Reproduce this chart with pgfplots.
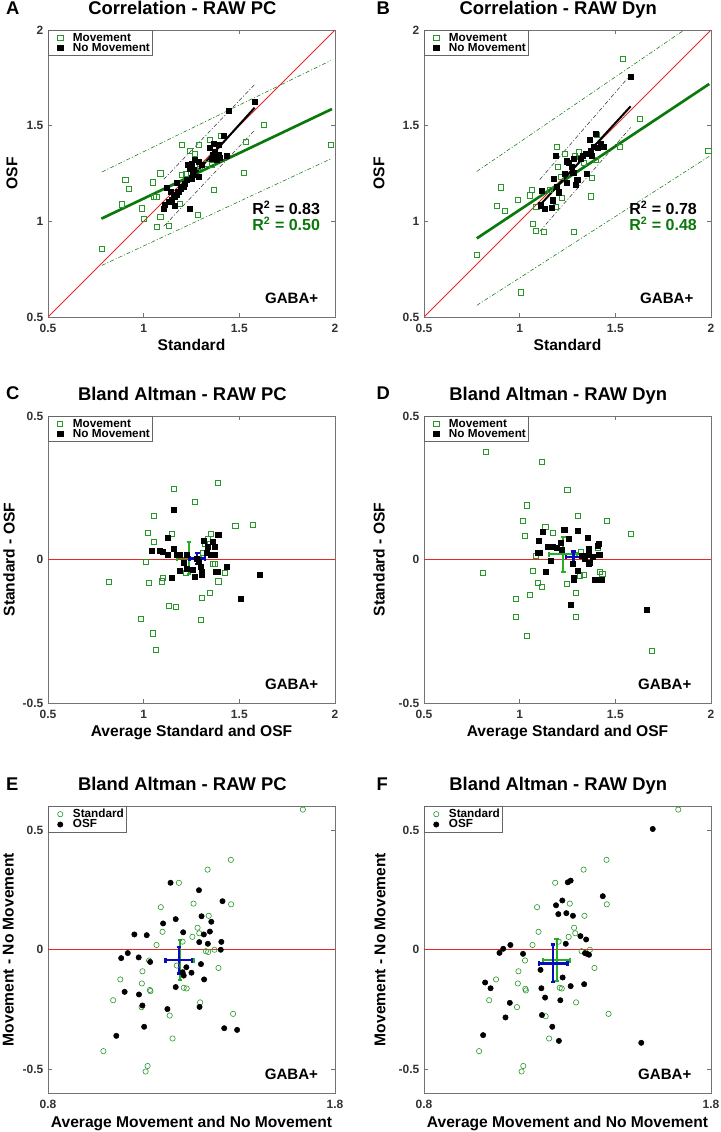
\documentclass[border=0pt]{standalone}
\usepackage{fontspec}
\setmainfont{Liberation Sans}
\usepackage{pgfplots}
\pgfplotsset{compat=1.18}
\definecolor{mgreen}{RGB}{40,150,40}
\definecolor{lgreen}{RGB}{10,120,10}
\definecolor{ebgreen}{RGB}{40,175,40}
\definecolor{ebblue}{RGB}{10,10,190}
\definecolor{mred}{RGB}{230,40,40}
\tikzset{
  gaba/.style={font=\fontsize{11.3}{12}\selectfont\bfseries, anchor=base east},
  rsq/.style={font=\fontsize{12}{13}\selectfont\bfseries, anchor=base east},
  plab/.style={font=\fontsize{13.8}{15}\selectfont\bfseries, anchor=base west},
}
\pgfplotsset{
  panel/.style={
    scale only axis, width=215.25pt, height=215.25pt, anchor=north west,
    axis line style={black!55}, every tick/.style={black!55, thin},
    tick align=inside, major tick length=3pt, scaled ticks=false,
    tick label style={font=\fontsize{9}{10}\selectfont\bfseries, text=black!80},
    /pgf/number format/assume math mode=true,
    label style={font=\fontsize{11.7}{13}\selectfont\bfseries},
    title style={font=\fontsize{13.8}{15}\selectfont\bfseries, at={(axis description cs:0.468,1)}, anchor=base, yshift=6pt},
    xticklabel style={anchor=base, yshift=-11.7pt},
    ylabel style={anchor=center},
    legend cell align=left,
    legend style={at={(0,1)}, anchor=north west, draw=black!60, fill=white,
      font=\fontsize{8.8}{9}\selectfont\bfseries, inner xsep=0pt, inner ysep=0.5pt,
      row sep=-3pt, nodes={inner sep=1.5pt}},
  },
  limg/.style={legend image code/.code={\path[draw=none,fill=none] (0pt,0pt) -- (17pt,0pt); \draw[##1, only marks] plot coordinates {(9pt,0pt)};}},
  grn/.style={only marks, mark=square, mark size=1.9pt, color=mgreen, mark options={line width=0.45pt}, limg},
  blk/.style={only marks, mark=square*, mark size=1.9pt, color=black, limg},
  grnc/.style={only marks, mark=o, mark size=2pt, color=mgreen, mark options={line width=0.45pt}, limg},
  blkc/.style={only marks, mark=*, mark size=2pt, color=black, limg},
  dd/.style={forget plot, mark=none, thin, dash pattern=on 3pt off 1.5pt on 0.8pt off 1.5pt},
  zl/.style={forget plot, mark=none, draw=mred, line width=0.6pt},
  zh/.style={forget plot, mark=none, draw=mred, line width=0.9pt},
  ebg/.style={forget plot, mark=none, color=ebgreen, error bars/.cd, x dir=both, x explicit, y dir=both, y explicit,
    error bar style={line width=1.5pt, color=ebgreen}, error mark options={rotate=90, line width=1.5pt, mark size=1.7pt, color=ebgreen}},
  ebb/.style={forget plot, mark=none, color=ebblue, error bars/.cd, x dir=both, x explicit, y dir=both, y explicit,
    error bar style={line width=1.8pt, color=ebblue}, error mark options={rotate=90, line width=1.8pt, mark size=1.7pt, color=ebblue}},
}
\begin{document}
\begin{tikzpicture}
\useasboundingbox (0,0) rectangle (540.75pt,-849pt);
\node[plab] at (1pt,-10.5pt) {A};
\node[plab] at (279pt,-10.5pt) {B};
\node[plab] at (1pt,-299.5pt) {C};
\node[plab] at (279pt,-299.5pt) {D};
\node[plab] at (1pt,-592.5pt) {E};
\node[plab] at (279pt,-592.5pt) {F};

% ---------------- A
\begin{axis}[panel, at={(36pt,-22.5pt)},
  xmin=0.5,xmax=2,ymin=0.5,ymax=2, xtick={0.5,1,1.5,2}, ytick={0.5,1,1.5,2},
  title={Correlation - RAW PC}, xlabel={Standard}, ylabel={OSF},
  xlabel style={at={(axis description cs:0.5,0)}, anchor=base, yshift=-24.75pt},
  ylabel style={at={(axis description cs:-0.1254,0.5)}}]
\addplot[zl] coordinates {(0.5,0.5) (2,2)};
\addplot[grn] coordinates {(0.782,0.857) (0.885,1.089) (0.904,1.216) (0.920,1.172) (0.991,1.068) (1.002,1.012)
 (1.049,1.204) (1.052,1.127) (1.066,1.129) (1.070,0.972) (1.087,1.023) (1.087,1.251) (1.129,0.977) (1.190,1.094)
 (1.197,1.401) (1.200,1.244) (1.218,1.249) (1.239,1.368) (1.265,1.352) (1.284,1.033) (1.287,1.402) (1.295,1.286)
 (1.329,1.300) (1.348,1.427) (1.356,1.295) (1.368,1.167) (1.401,1.448) (1.524,1.254) (1.535,1.418) (1.629,1.505) (1.977,1.401)};
\addlegendentry{Movement}
\addplot[blk] coordinates {(1.582,1.625) (1.443,1.577) (1.420,1.448) (1.434,1.342) (1.394,1.399) (1.364,1.403)
 (1.347,1.385) (1.373,1.364) (1.390,1.347) (1.361,1.350) (1.356,1.326) (1.382,1.321) (1.399,1.330) (1.268,1.321)
 (1.286,1.312) (1.303,1.295) (1.251,1.303) (1.233,1.295) (1.242,1.274) (1.260,1.268) (1.256,1.246) (1.286,1.233)
 (1.251,1.225) (1.225,1.216) (1.216,1.194) (1.207,1.181) (1.194,1.173) (1.181,1.155) (1.173,1.141) (1.164,1.129)
 (1.173,1.204) (1.120,1.176) (1.141,1.155) (1.155,1.138) (1.146,1.112) (1.129,1.103) (1.112,1.085) (1.164,1.082)
 (1.103,1.068) (1.242,1.065)};
\addlegendentry{No Movement}
\addplot[dd, lgreen] coordinates {(0.782,1.258) (1.977,1.840)};
\addplot[dd, lgreen] coordinates {(0.782,0.770) (1.977,1.326)};
\addplot[forget plot, mark=none, lgreen, line width=2pt] coordinates {(0.779,1.014) (1.984,1.587)};
\addplot[dd, black!80] coordinates {(1.105,1.220) (1.578,1.713)};
\addplot[dd, black!80] coordinates {(1.105,0.974) (1.578,1.474)};
\addplot[forget plot, mark=none, black, line width=1.5pt] coordinates {(1.103,1.066) (1.580,1.594)};
\node[rsq] at (axis description cs:0.964,0.357) {R\textsuperscript{2} = 0.83};
\node[rsq, text=lgreen] at (axis description cs:0.964,0.301) {R\textsuperscript{2} = 0.50};
\node[gaba] at (axis description cs:0.958,0.048) {GABA+};
\end{axis}

% ---------------- B
\begin{axis}[panel, at={(318pt,-22.5pt)},
  xmin=0.5,xmax=2,ymin=0.5,ymax=2, xtick={0.5,1,1.5,2}, ytick={0.5,1,1.5,2},
  title={Correlation - RAW Dyn}, xlabel={Standard}, ylabel={OSF},
  xlabel style={at={(axis description cs:0.5,0)}, anchor=base, yshift=-24.75pt},
  ylabel style={at={(axis description cs:-0.157,0.5)}}]
\addplot[zl] coordinates {(0.5,0.5) (2,2)};
\addplot[grn] coordinates {(0.778,0.826) (0.881,1.080) (0.902,1.178) (0.920,1.054) (0.990,1.111) (1.005,0.629)
 (1.052,1.136) (1.063,1.164) (1.070,0.988) (1.086,0.949) (1.087,1.075) (1.128,0.944) (1.159,1.164) (1.191,1.077)
 (1.194,1.392) (1.199,1.287) (1.213,1.235) (1.219,1.124) (1.234,1.354) (1.283,0.944) (1.288,1.340) (1.311,1.361)
 (1.336,1.305) (1.371,1.131) (1.376,1.226) (1.399,1.322) (1.402,1.453) (1.524,1.390) (1.537,1.850) (1.629,1.535) (1.986,1.371)};
\addlegendentry{Movement}
\addplot[blk] coordinates {(1.117,1.160) (1.108,1.084) (1.131,1.064) (1.166,1.070) (1.171,1.110) (1.178,1.223)
 (1.189,1.345) (1.196,1.183) (1.203,1.152) (1.236,1.249) (1.245,1.204) (1.248,1.314) (1.259,1.308) (1.271,1.287)
 (1.280,1.253) (1.283,1.326) (1.292,1.192) (1.301,1.218) (1.318,1.326) (1.332,1.343) (1.346,1.353) (1.353,1.249)
 (1.364,1.427) (1.371,1.371) (1.379,1.343) (1.388,1.392) (1.399,1.458) (1.409,1.383) (1.423,1.406) (1.441,1.392) (1.580,1.754)};
\addlegendentry{No Movement}
\addplot[dd, lgreen] coordinates {(0.776,1.261) (1.860,2.0)};
\addplot[dd, lgreen] coordinates {(0.776,0.561) (1.991,1.340)};
\addplot[forget plot, mark=none, lgreen, line width=2pt] coordinates {(0.776,0.911) (1.991,1.718)};
\addplot[dd, black!80] coordinates {(1.105,1.218) (1.580,1.766)};
\addplot[dd, black!80] coordinates {(1.105,0.948) (1.580,1.490)};
\addplot[forget plot, mark=none, black, line width=1.5pt] coordinates {(1.100,1.078) (1.580,1.601)};
\node[rsq] at (axis description cs:0.967,0.357) {R\textsuperscript{2} = 0.78};
\node[rsq, text=lgreen] at (axis description cs:0.967,0.301) {R\textsuperscript{2} = 0.48};
\node[gaba] at (axis description cs:0.955,0.048) {GABA+};
\end{axis}

% ---------------- C
\begin{axis}[panel, at={(36pt,-312pt)},
  xmin=0.5,xmax=2,ymin=-0.5,ymax=0.5, xtick={0.5,1,1.5,2}, ytick={-0.5,0,0.5},
  title={Bland Altman - RAW PC}, xlabel={Average Standard and OSF}, ylabel={Standard - OSF},
  xlabel style={at={(axis description cs:0.5,0)}, anchor=base, yshift=-25.3pt},
  ylabel style={at={(axis description cs:-0.136,0.5)}}]
\addplot[grn] coordinates {(0.819,-0.079) (0.985,-0.205) (1.009,-0.009) (1.022,0.094) (1.029,-0.081) (1.049,-0.257)
 (1.055,0.153) (1.055,0.063) (1.063,-0.314) (1.095,-0.076) (1.102,-0.063) (1.130,-0.161) (1.145,0.089) (1.159,0.248)
 (1.170,-0.165) (1.220,-0.045) (1.269,0.201) (1.299,-0.210) (1.302,-0.133) (1.311,0.023) (1.320,0.055) (1.334,0.073)
 (1.346,-0.117) (1.353,0.088) (1.363,-0.015) (1.372,-0.015) (1.388,0.266) (1.390,-0.076) (1.426,-0.045) (1.479,0.116) (1.571,0.120)};
\addlegendentry{Movement}
\addplot[blk] coordinates {(1.044,0.032) (1.084,0.030) (1.102,0.026) (1.124,0.075) (1.124,0.017) (1.149,-0.063)
 (1.156,0.174) (1.159,0.036) (1.173,0.018) (1.189,0.015) (1.191,-0.038) (1.212,-0.012) (1.224,0.015) (1.227,-0.032)
 (1.255,-0.036) (1.267,-0.061) (1.276,0.003) (1.290,-0.009) (1.299,-0.024) (1.302,-0.044) (1.302,-0.052) (1.315,0.065)
 (1.329,0.023) (1.337,0.044) (1.351,0.015) (1.363,0.061) (1.370,0.044) (1.372,0.015) (1.376,-0.044) (1.390,0.087)
 (1.386,-0.044) (1.435,-0.026) (1.506,-0.137) (1.606,-0.052)};
\addlegendentry{No Movement}
\addplot[zh] coordinates {(0.5,0) (2,0)};
\addplot[ebg] coordinates {(1.237,0.004) +- (0.064,0.056)};
\addplot[ebb] coordinates {(1.280,0.003) +- (0.041,0.019)};
\node[gaba] at (axis description cs:0.958,0.048) {GABA+};
\end{axis}

% ---------------- D
\begin{axis}[panel, at={(318pt,-312pt)},
  xmin=0.5,xmax=2,ymin=-0.5,ymax=0.5, xtick={0.5,1,1.5,2}, ytick={-0.5,0,0.5},
  title={Bland Altman - RAW Dyn}, xlabel={Average Standard and OSF}, ylabel={Standard - OSF},
  xlabel style={at={(axis description cs:0.5,0)}, anchor=base, yshift=-25.3pt},
  ylabel style={at={(axis description cs:-0.157,0.5)}}]
\addplot[grn] coordinates {(0.806,-0.047) (0.822,0.375) (0.981,-0.137) (0.981,-0.199) (1.018,0.136) (1.028,0.081)
 (1.039,0.189) (1.039,-0.267) (1.053,-0.122) (1.067,-0.040) (1.084,0.012) (1.096,-0.081) (1.114,0.339) (1.117,-0.094)
 (1.134,0.113) (1.171,0.094) (1.244,-0.084) (1.249,0.242) (1.291,-0.199) (1.294,-0.117) (1.303,0.152) (1.313,-0.055)
 (1.319,0.026) (1.333,-0.052) (1.406,0.041) (1.418,-0.044) (1.432,-0.050) (1.456,0.136) (1.579,0.091) (1.692,-0.317)};
\addlegendentry{Movement}
\addplot[blk] coordinates {(1.100,0.065) (1.096,0.023) (1.105,0.023) (1.119,0.096) (1.136,-0.044) (1.148,0.046)
 (1.162,-0.005) (1.174,0.044) (1.192,0.041) (1.214,0.058) (1.221,0.034) (1.233,0.104) (1.256,0.072) (1.265,-0.159)
 (1.279,-0.015) (1.281,-0.070) (1.284,-0.063) (1.303,0.101) (1.303,-0.040) (1.327,0.012) (1.340,0.003) (1.354,0.076)
 (1.359,0.036) (1.359,0.015) (1.366,-0.012) (1.362,-0.015) (1.383,0.011) (1.395,-0.069) (1.409,0.049) (1.414,0.054)
 (1.416,0.015) (1.430,-0.069) (1.666,-0.176)};
\addlegendentry{No Movement}
\addplot[zh] coordinates {(0.5,0) (2,0)};
\addplot[ebg] coordinates {(1.228,0.018) +- (0.073,0.062)};
\addplot[ebb] coordinates {(1.282,0.008) +- (0.041,0.020)};
\node[gaba] at (axis description cs:0.948,0.048) {GABA+};
\end{axis}

% ---------------- E
\begin{axis}[panel, at={(36pt,-604.5pt)},
  xmin=0.8,xmax=1.8,ymin=-0.6,ymax=0.6, xtick={0.8,1.8}, ytick={-0.5,0,0.5},
  title={Bland Altman - RAW PC}, xlabel={Average Movement and No Movement}, ylabel={Movement - No Movement},
  xlabel style={at={(axis description cs:0.5,0)}, anchor=base, yshift=-26pt},
  ylabel style={at={(axis description cs:-0.138,0.5)}}]
\addplot[grnc] coordinates {(0.993,-0.425) (1.027,-0.212) (1.052,-0.125) (1.126,-0.241) (1.127,-0.142) (1.129,-0.091)
 (1.140,-0.510) (1.147,-0.487) (1.152,-0.046) (1.155,-0.169) (1.157,-0.174) (1.178,0.019) (1.193,0.177) (1.199,0.074)
 (1.224,-0.276) (1.234,-0.372) (1.249,-0.067) (1.256,0.279) (1.269,0.033) (1.273,-0.160) (1.283,-0.163) (1.303,0.053)
 (1.307,0.192) (1.321,0.091) (1.327,0.068) (1.330,-0.221) (1.350,-0.007) (1.356,0.334) (1.358,-0.010) (1.360,0.141)
 (1.380,-0.001) (1.394,-0.077) (1.437,0.375) (1.438,0.189) (1.445,-0.269) (1.688,0.585)};
\addlegendentry{Standard}
\addplot[blkc] coordinates {(1.038,-0.361) (1.055,-0.036) (1.067,-0.177) (1.078,-0.015) (1.101,0.063) (1.116,-0.033)
 (1.117,-0.188) (1.129,-0.234) (1.135,-0.323) (1.144,0.060) (1.156,-0.052) (1.201,0.109) (1.216,-0.249) (1.227,0.279)
 (1.245,0.127) (1.245,-0.157) (1.269,-0.095) (1.271,0.072) (1.273,-0.109) (1.282,-0.074) (1.300,-0.097) (1.326,0.248)
 (1.327,0.031) (1.328,-0.240) (1.333,-0.061) (1.335,0.139) (1.343,0.063) (1.344,-0.125) (1.357,0.024) (1.364,0.075)
 (1.369,0.116) (1.404,0.032) (1.402,-0.001) (1.408,0.202) (1.414,-0.329) (1.459,-0.336)};
\addlegendentry{OSF}
\addplot[zh] coordinates {(0.8,0) (1.8,0)};
\addplot[ebg] coordinates {(1.260,-0.045) +- (0.048,0.083)};
\addplot[ebb] coordinates {(1.256,-0.045) +- (0.046,0.055)};
\node[gaba] at (axis description cs:0.957,0.048) {GABA+};
\end{axis}

% ---------------- F
\begin{axis}[panel, at={(318pt,-604.5pt)},
  xmin=0.8,xmax=1.8,ymin=-0.6,ymax=0.6, xtick={0.8,1.8}, ytick={-0.5,0,0.5},
  title={Bland Altman - RAW Dyn}, xlabel={Average Movement and No Movement}, ylabel={Movement - No Movement},
  xlabel style={at={(axis description cs:0.5,0)}, anchor=base, yshift=-26pt},
  ylabel style={at={(axis description cs:-0.153,0.5)}}]
\addplot[grnc] coordinates {(0.992,-0.425) (1.027,-0.212) (1.051,-0.125) (1.124,-0.241) (1.127,-0.142) (1.129,-0.091)
 (1.140,-0.510) (1.146,-0.487) (1.152,-0.046) (1.153,-0.164) (1.155,-0.171) (1.178,0.019) (1.194,0.177) (1.199,0.074)
 (1.224,-0.279) (1.236,-0.372) (1.257,0.279) (1.269,0.033) (1.273,-0.160) (1.280,-0.163) (1.304,0.053) (1.308,0.192)
 (1.323,0.091) (1.327,0.068) (1.330,-0.221) (1.349,-0.007) (1.356,0.334) (1.359,0.141) (1.378,-0.001) (1.394,-0.077)
 (1.436,0.375) (1.437,0.189) (1.443,-0.269) (1.686,0.585)};
\addlegendentry{Standard}
\addplot[blkc] coordinates {(1.006,-0.358) (1.013,-0.138) (1.032,-0.162) (1.063,-0.014) (1.076,0.003) (1.084,-0.284)
 (1.099,-0.223) (1.101,0.019) (1.145,-0.018) (1.206,-0.085) (1.209,-0.162) (1.211,-0.274) (1.222,-0.201) (1.247,-0.323)
 (1.260,0.185) (1.268,0.148) (1.270,-0.382) (1.275,-0.212) (1.282,0.205) (1.283,-0.117) (1.294,0.024) (1.296,0.152)
 (1.301,0.281) (1.311,0.288) (1.311,-0.153) (1.319,0.141) (1.345,0.056) (1.358,-0.145) (1.361,-0.015) (1.365,0.042)
 (1.368,-0.018) (1.375,-0.022) (1.423,0.223) (1.557,-0.390) (1.597,0.504)};
\addlegendentry{OSF}
\addplot[zh] coordinates {(0.8,0) (1.8,0)};
\addplot[ebg] coordinates {(1.262,-0.045) +- (0.048,0.088)};
\addplot[ebb] coordinates {(1.250,-0.058) +- (0.050,0.079)};
\node[gaba] at (axis description cs:0.948,0.048) {GABA+};
\end{axis}
\end{tikzpicture}
\end{document}
